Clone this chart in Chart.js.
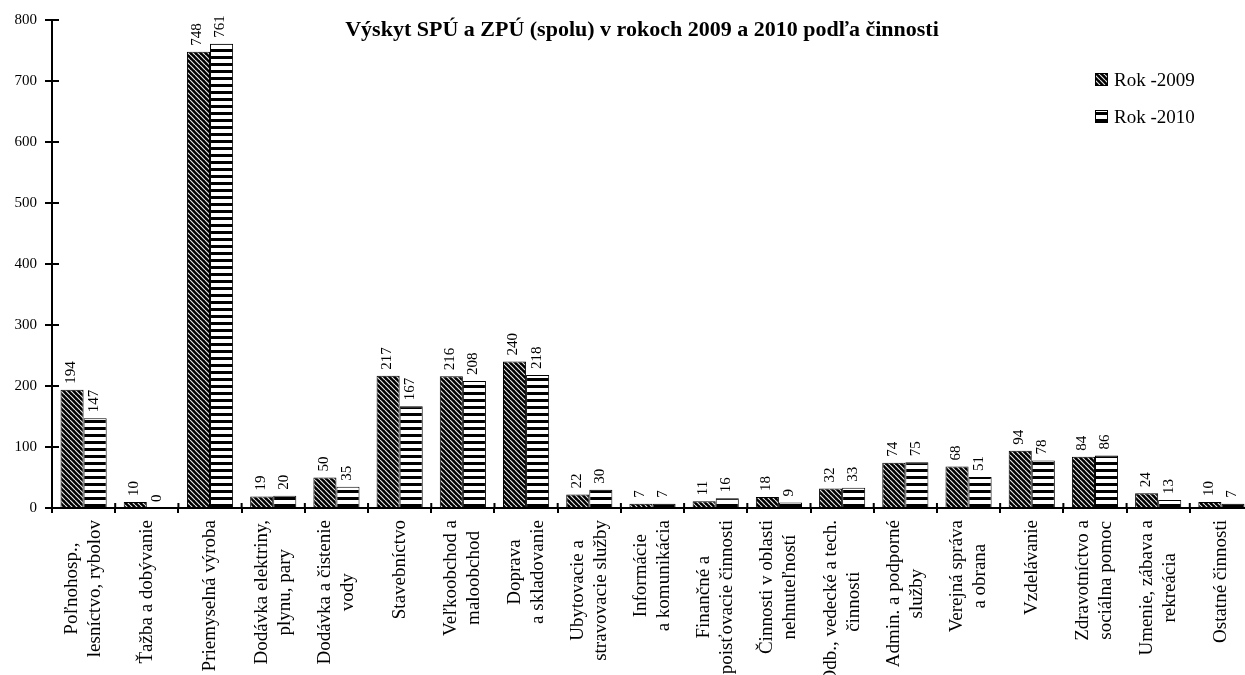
<!DOCTYPE html>
<html lang="sk">
<head>
<meta charset="UTF-8">
<title>Výskyt SPÚ a ZPÚ</title>
<script src="https://cdn.jsdelivr.net/npm/chart.js"></script>
<style>
  html, body { margin: 0; padding: 0; background: #fff; overflow: hidden; }
  #wrap { width: 1253px; height: 675px; position: relative; }
</style>
</head>
<body>
<div id="wrap"><canvas id="chart"></canvas></div>
<script>
const categories = [
  ["Poľnohosp.,", "lesníctvo, rybolov"],
  ["Ťažba a dobývanie"],
  ["Priemyselná výroba"],
  ["Dodávka elektriny,", "plynu, pary"],
  ["Dodávka a čistenie", "vody"],
  ["Stavebníctvo"],
  ["Veľkoobchod a", "maloobchod"],
  ["Doprava", "a skladovanie"],
  ["Ubytovacie a", "stravovacie služby"],
  ["Informácie", "a komunikácia"],
  ["Finančné a", "poisťovacie činnosti"],
  ["Činnosti v oblasti", "nehnuteľností"],
  ["Odb., vedecké a tech.", "činnosti"],
  ["Admin. a podporné", "služby"],
  ["Verejná správa", "a obrana"],
  ["Vzdelávanie"],
  ["Zdravotníctvo a", "sociálna pomoc"],
  ["Umenie, zábava a", "rekreácia"],
  ["Ostatné činnosti"]
];
const rok2009 = [194, 10, 748, 19, 50, 217, 216, 240, 22, 7, 11, 18, 32, 74, 68, 94, 84, 24, 10];
const rok2010 = [147, 0, 761, 20, 35, 167, 208, 218, 30, 7, 16, 9, 33, 75, 51, 78, 86, 13, 7];
const seriesNames = ["Rok -2009", "Rok -2010"];
const yTicks = [0, 100, 200, 300, 400, 500, 600, 700, 800];
const title = "Výskyt SPÚ a ZPÚ (spolu) v rokoch 2009 a 2010 podľa činnosti";

const serif = "'Liberation Serif', 'Times New Roman', serif";

// vzory výplne
function hatch() {
  const c = document.createElement("canvas");
  c.width = 5; c.height = 5;
  const g = c.getContext("2d");
  g.fillStyle = "#000";
  g.fillRect(0, 0, 5, 5);
  g.strokeStyle = "#e6e6e6";
  g.lineWidth = 1.2;
  g.beginPath();
  [-5, 0, 5].forEach(o => { g.moveTo(o, 0); g.lineTo(o + 5, 5); });
  g.stroke();
  return g.createPattern(c, "repeat");
}
function stripes() {
  const c = document.createElement("canvas");
  c.width = 4; c.height = 7;
  const g = c.getContext("2d");
  g.fillStyle = "#fff";
  g.fillRect(0, 0, 4, 7);
  g.fillStyle = "#000";
  g.fillRect(0, 0, 4, 3);
  return g.createPattern(c, "repeat");
}
const fills = [hatch(), stripes()];

// titulok, legenda, hodnoty, popisky osi x, ticky dovnútra
const extras = {
  id: "extras",
  afterDraw(chart) {
    const { ctx, chartArea, scales: { x, y } } = chart;
    ctx.save();

    // ticky cez os
    ctx.strokeStyle = "#000";
    ctx.lineWidth = 2;
    ctx.beginPath();
    yTicks.forEach(v => {
      const py = y.getPixelForValue(v);
      ctx.moveTo(chartArea.left, py);
      ctx.lineTo(chartArea.left + 7, py);
    });
    for (let i = 0; i <= categories.length; i++) {
      const px = x.getPixelForValue(i - 0.5);
      ctx.moveTo(px, chartArea.bottom);
      ctx.lineTo(px, chartArea.bottom - 5);
    }
    ctx.stroke();

    // hodnoty nad stĺpcami
    ctx.fillStyle = "#000";
    ctx.font = "15px " + serif;
    ctx.textAlign = "left";
    ctx.textBaseline = "middle";
    chart.data.datasets.forEach((ds, di) => {
      chart.getDatasetMeta(di).data.forEach((bar, i) => {
        ctx.save();
        ctx.translate(bar.x - 1, bar.y - 6);
        ctx.rotate(-Math.PI / 2);
        ctx.fillText(String(ds.data[i]), 0, 0);
        ctx.restore();
      });
    });

    // popisky kategórií
    ctx.font = "19px " + serif;
    ctx.textAlign = "center";
    categories.forEach((lines, i) => {
      const px = x.getPixelForValue(i);
      const w = Math.max(...lines.map(l => ctx.measureText(l).width));
      ctx.save();
      ctx.translate(px, chartArea.bottom + 12 + w / 2);
      ctx.rotate(-Math.PI / 2);
      lines.forEach((l, j) => {
        ctx.fillText(l, 0, (j - (lines.length - 1) / 2) * 23);
      });
      ctx.restore();
    });

    // titulok
    ctx.font = "bold 22px " + serif;
    ctx.fillText(title, 642, 30);

    // legenda
    ctx.font = "19px " + serif;
    ctx.textAlign = "left";
    seriesNames.forEach((name, i) => {
      const ly = 80 + i * 37;
      ctx.fillStyle = fills[i];
      ctx.fillRect(1095, ly - 7, 13, 13);
      ctx.strokeStyle = "#000";
      ctx.lineWidth = 1;
      ctx.strokeRect(1095.5, ly - 6.5, 12, 12);
      ctx.fillStyle = "#000";
      ctx.fillText(name, 1114, ly + 1);
    });

    ctx.restore();
  }
};

new Chart(document.getElementById("chart"), {
  type: "bar",
  data: {
    labels: categories,
    datasets: [
      { label: seriesNames[0], data: rok2009, backgroundColor: fills[0], borderColor: "#000", borderWidth: 1 },
      { label: seriesNames[1], data: rok2010, backgroundColor: fills[1], borderColor: "#000", borderWidth: 1 }
    ]
  },
  options: {
    responsive: true,
    maintainAspectRatio: false,
    animation: false,
    layout: { padding: { top: 20, right: 0, bottom: 0, left: 0 } },
    datasets: { bar: { categoryPercentage: 0.73, barPercentage: 1 } },
    plugins: {
      legend: { display: false },
      tooltip: { enabled: false },
      title: { display: false }
    },
    scales: {
      x: {
        grid: { drawOnChartArea: false, color: "#000", lineWidth: 2, tickLength: 5 },
        border: { color: "#000", width: 2 },
        ticks: { display: false },
        afterFit: s => { s.height = 167; }
      },
      y: {
        min: 0,
        max: 800,
        afterBuildTicks: s => { s.ticks = yTicks.map(v => ({ value: v })); },
        grid: { drawOnChartArea: false, color: "#000", lineWidth: 2, tickLength: 7 },
        border: { color: "#000", width: 2 },
        ticks: { color: "#000", padding: 8, font: { family: serif, size: 15 } },
        afterFit: s => { s.width = 52; }
      }
    }
  },
  plugins: [extras]
});
</script>
</body>
</html>
